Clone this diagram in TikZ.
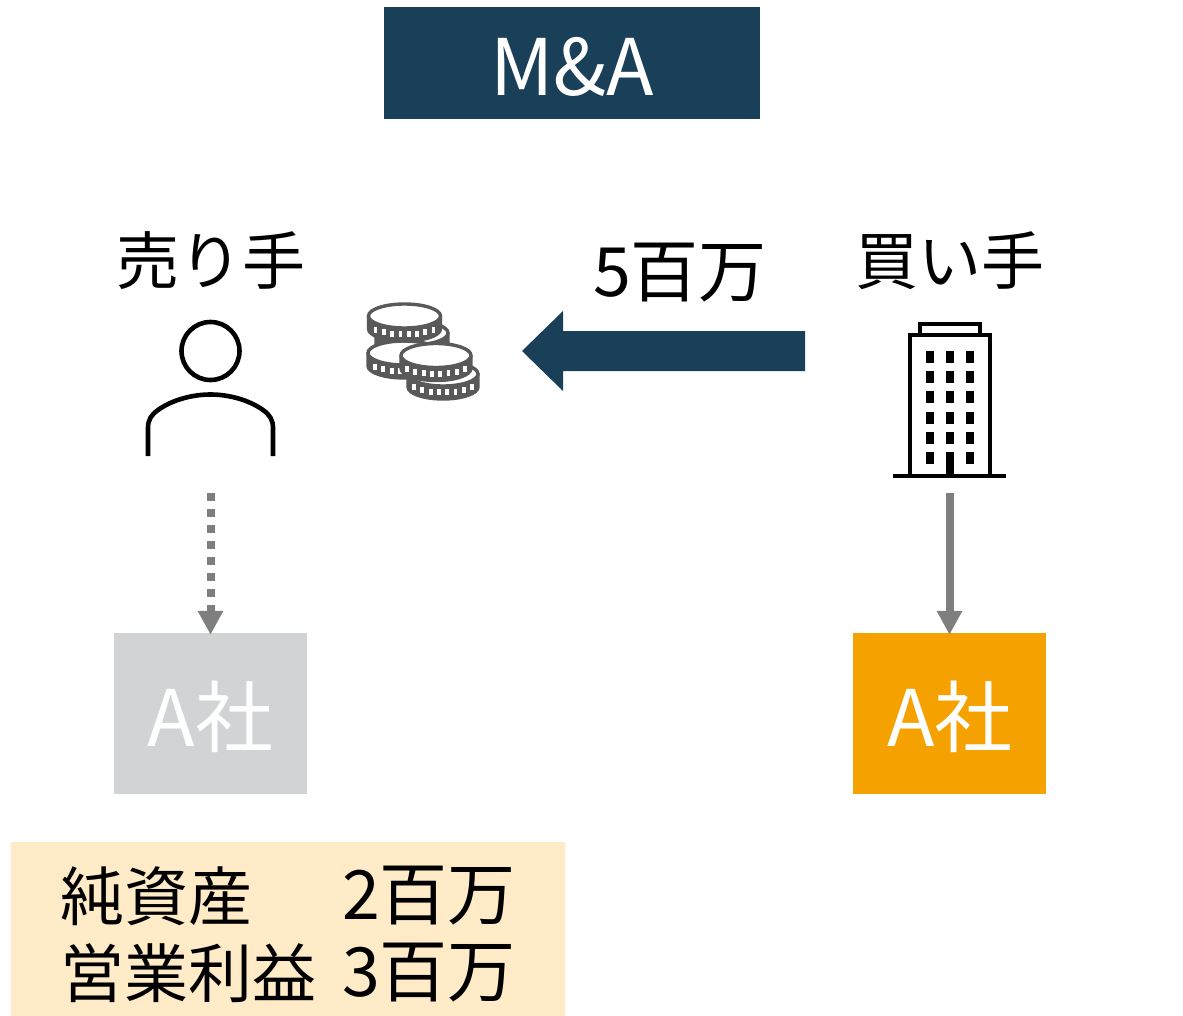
\documentclass[tikz,border=0pt]{standalone}
\usepackage{fontspec}
\setmainfont{Noto Sans CJK JP}
\usetikzlibrary{arrows.meta}
\definecolor{navy}{HTML}{1A4059}
\definecolor{compgrey}{HTML}{D2D3D5}
\definecolor{amber}{HTML}{F5A200}
\definecolor{cream}{HTML}{FFEBC8}
\definecolor{linegrey}{HTML}{7F7F7F}
\definecolor{coin}{HTML}{595959}
\newcommand{\coinat}[4]{% cx, cy, rx, ry
  \fill[coin,draw=coin,line width=3.4pt,line join=round]
    (#1-#3,#2) -- (#1-#3,#2+13)
    .. controls (#1-#3,#2+13+0.55*#4) and (#1-0.55*#3,#2+13+#4) .. (#1,#2+13+#4)
    .. controls (#1+0.55*#3,#2+13+#4) and (#1+#3,#2+13+0.55*#4) .. (#1+#3,#2+13)
    -- (#1+#3,#2) -- cycle;
  \fill[white,draw=coin,line width=3.4pt] (#1,#2) ellipse[x radius=#3,y radius=#4];
  \foreach \dx in {-29,-20.7,-12.4,-4.1,4.1,12.4,20.7,29}{
    \pgfmathsetmacro{\ty}{#2+#4*sqrt(1-(\dx/#3)*(\dx/#3))+6.5}
    \fill[white] (#1+\dx-1.9,\ty-3) rectangle (#1+\dx+1.9,\ty+3);
  }
}
\tikzset{
  x=1pt,y=-1pt,
  label text/.style={font=\fontsize{63}{63}\selectfont,text=black,inner sep=0pt},
  rowtext/.style={font=\fontsize{64}{64}\selectfont,text=black,inner sep=0pt,anchor=west},
  amount/.style={font=\fontsize{68}{68}\selectfont,text=black,inner sep=0pt,anchor=west},
  company/.style={minimum width=193pt,minimum height=161pt,inner sep=0pt},
  companytext/.style={inner sep=0pt,text=white,font=\fontsize{78}{78}\selectfont},
  connector/.style={draw=linegrey,line width=8pt,shorten >=-2pt,-{Triangle[width=24pt,length=24pt,fill=linegrey]}},
  icon/.style={line width=4.6pt,draw=black}
}
\begin{document}
\begin{tikzpicture}
\useasboundingbox (0,0) rectangle (1183,1016);
\node[fill=navy,minimum width=376pt,minimum height=112pt,inner sep=0pt] (title) at (572,63) {};
\node[text=white,inner sep=0pt,font=\fontsize{78}{78}\selectfont] (titletext) at (572,67) {M\&A};
\node[label text] (seller) at (210.5,261) {売り手};
\node[label text] (buyer) at (950,261) {買い手};
\node[amount,anchor=center] (price) at (680,273) {5百万};
% person icon
\draw[icon] (210.5,351) circle[radius=29];
\draw[icon] (148,456) -- (148,428) .. controls (148,420) and (151,415) .. (158,410) .. controls (172,400) and (192,394.5) .. (210.5,394.5) .. controls (229,394.5) and (249,400) .. (263,410) .. controls (270,415) and (273,420) .. (273,428) -- (273,456);
\coordinate (sellerfoot) at (210.5,493);
% coins
\coinat{412}{333}{36}{12}
\coinat{404}{353}{36}{12}
\coinat{404.5}{316}{36}{12}
\coinat{443}{374}{35}{12}
\coinat{436}{355.5}{35}{12}
% money arrow
\coordinate (paytail) at (805,351);
\coordinate (payhead) at (522,351);
\fill[navy] (805,331) -- (563,331) -- (563,311) -- (payhead) -- (563,391) -- (563,371) -- (805,371) -- cycle;
% building icon
\draw[line width=4pt,draw=black] (920,335) -- (920,323.5) -- (980,323.5) -- (980,335);
\draw[line width=4pt,draw=black] (909.5,476) -- (909.5,335) -- (990,335) -- (990,476);
\draw[line width=4pt,draw=black] (893,476) -- (1006,476);
\foreach \wx in {929.5,949.5,969.5}
  \foreach \wy in {357,377,397,417.5,437.5}
    \fill[black] (\wx-4,\wy-6) rectangle (\wx+4,\wy+6);
\fill[black] (925.5,451.5) rectangle (933.5,463.5);
\fill[black] (965.5,451.5) rectangle (973.5,463.5);
\fill[black] (945.5,451.5) rectangle (953.5,476);
\coordinate (buyerfoot) at (949.5,493);
% companies
\node[company,fill=compgrey] (oldco) at (210.5,713.5) {};
\node[company,fill=amber] (newco) at (949.5,713.5) {};
\node[companytext] (oldcotext) at (210.5,717) {A社};
\node[companytext] (newcotext) at (950,717) {A社};
\draw[connector,dash pattern=on 8pt off 8pt] (sellerfoot) -- (oldco.north);
\draw[connector] (buyerfoot) -- (newco.north);
% financial table
\node[fill=cream,minimum width=554pt,minimum height=174pt,inner sep=0pt] (table) at (288,929) {};
\node[rowtext] (r1a) at (60,896) {純資産};
\node[amount] (r1b) at (342,896) {2百万};
\node[rowtext] (r2a) at (60,973) {営業利益};
\node[amount] (r2b) at (342,973) {3百万};
\end{tikzpicture}
\end{document}
